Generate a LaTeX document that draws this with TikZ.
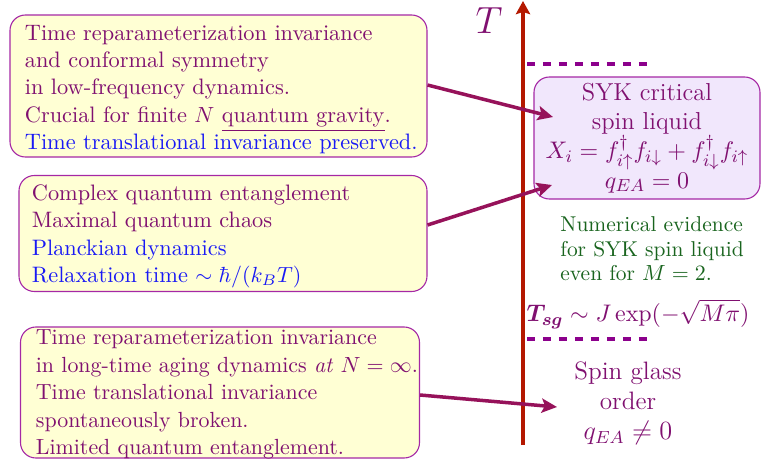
\documentclass[tikz,border=0pt]{standalone}
\usepackage{amsmath,bm}
\usetikzlibrary{arrows.meta,calc}
\definecolor{txtp}{RGB}{128,16,112}
\definecolor{arrc}{RGB}{150,18,90}
\definecolor{axc}{RGB}{180,24,0}
\definecolor{dashc}{RGB}{140,0,140}
\definecolor{boxy}{RGB}{255,255,212}
\definecolor{boxl}{RGB}{241,231,252}
\definecolor{bord}{RGB}{165,40,165}
\definecolor{grn}{RGB}{25,100,30}
\definecolor{blu}{RGB}{25,25,245}
\def\u{0.4566pt}
\tikzset{
  infobox/.style={draw=bord, fill=boxy, rounded corners=7pt, line width=0.5pt, inner sep=0pt},
  infotext/.style={anchor=west, align=left, text=txtp, inner sep=0pt,
    font=\fontsize{10.2}{12.5}\selectfont},
  phasebox/.style={draw=bord, fill=boxl, rounded corners=7pt, line width=0.5pt,
    align=center, text=txtp, inner sep=0pt, font=\fontsize{11.2}{13.3}\selectfont},
  pointer/.style={draw=arrc, line width=1.6pt, -{Stealth[length=7pt,width=6.5pt,inset=1.5pt]}},
  taxis/.style={draw=axc, line width=1.5pt, -{Stealth[length=6pt,width=6.5pt,inset=1pt]}},
  boundary/.style={draw=dashc, line width=1.9pt, dash pattern=on 3.7pt off 3.6pt},
}
\begin{document}
\begin{tikzpicture}[x=0.4566pt,y=-0.4566pt]
\useasboundingbox (0,0) rectangle (761,461);
% axis
\coordinate (axb) at (523,445);
\coordinate (axt) at (523,1);
\draw[taxis] (axb) -- (axt);
\node[text=txtp, font=\LARGE, inner sep=0pt] (tlab) at (489,21) {$T$};
% dashed phase boundaries
\coordinate (d1a) at (527,64);
\coordinate (d1b) at (648,64);
\coordinate (d2a) at (527,339);
\coordinate (d2b) at (648,339);
\draw[boundary] (d1a) -- (d1b);
\draw[boundary] (d2a) -- (d2b);
% SYK box
\node[phasebox, minimum width=226*\u, minimum height=122*\u] (syk) at (647,138)
  {SYK critical\\ spin liquid\\
   $X_i = f^\dagger_{i\uparrow} f_{i\downarrow} + f^\dagger_{i\downarrow} f_{i\uparrow}$\\
   $q_{EA}=0$};
% green note
\node[anchor=west, align=left, text=grn, inner sep=0pt, font=\fontsize{9.8}{11.2}\selectfont] (note) at (560,249)
  {Numerical evidence\\ for SYK spin liquid\\ even for $M=2$.};
% Tsg
\node[text=txtp, inner sep=0pt, font=\fontsize{11}{13}\selectfont] (tsg) at (638,314)
  {$\bm{T_{sg}} \sim J\exp(-\sqrt{M\pi})$};
% spin glass
\node[text=txtp, align=center, inner sep=0pt, font=\fontsize{11.5}{13.7}\selectfont] (sg) at (628,403)
  {Spin glass\\ order\\ $q_{EA}\neq 0$};
% left boxes
\node[infobox, minimum width=417*\u, minimum height=142*\u] (b1) at (218.5,86) {};
\node[infotext] (b1t) at ($(b1.west)+(15,3.5)$)
  {Time reparameterization invariance\\ and conformal symmetry\\ in low-frequency dynamics.\\
   Crucial for finite $N$ \underline{quantum gravity}.\\
   \textcolor{blu}{Time translational invariance preserved.}};
\node[infobox, minimum width=408*\u, minimum height=116*\u] (b2) at (223,233.5) {};
\node[infotext] (b2t) at ($(b2.west)+(13,3)$)
  {Complex quantum entanglement\\ Maximal quantum chaos\\
   \textcolor{blu}{Planckian dynamics}\\
   \textcolor{blu}{Relaxation time $\sim \hbar/(k_BT)$}};
\node[infobox, minimum width=399*\u, minimum height=131*\u] (b3) at (220,392.5) {};
\node[infotext, font=\fontsize{10}{12.5}\selectfont] (b3t) at ($(b3.west)+(15.5,2)$)
  {Time reparameterization invariance\\ in long-time aging dynamics \emph{at} $N=\infty$.\\
   Time translational invariance\\ spontaneously broken.\\ Limited quantum entanglement.};
% arrows
\coordinate (tip1) at (553,117);
\coordinate (tip2) at (552,185);
\coordinate (tip3) at (557,407);
\draw[pointer] ($(b1.east)+(0,-1)$) -- (tip1);
\draw[pointer] ($(b2.east)+(0,-8.5)$) -- (tip2);
\draw[pointer] ($(b3.east)+(0,2.5)$) -- (tip3);
\end{tikzpicture}
\end{document}
